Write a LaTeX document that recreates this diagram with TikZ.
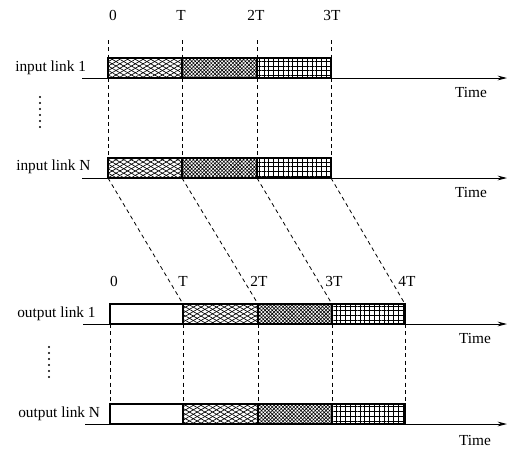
\documentclass[tikz,border=0pt]{standalone}
\usepackage{fontspec}
\setmainfont{Liberation Serif}
\usetikzlibrary{patterns.meta, arrows.meta}

\begin{document}
\begin{tikzpicture}[x=0.75pt, y=-0.75pt,
  lbl/.style={font=\fontsize{11.5}{13}\selectfont, inner sep=0pt},
  axis/.style={-{Stealth[length=7pt,width=3.5pt]}, line width=0.7pt},
  guide/.style={dash pattern=on 3pt off 2.5pt, line width=0.6pt},
  slot/.style={draw, line width=1pt},
  meshfill/.style={slot,
    preaction={pattern={Lines[angle=30,distance=2.9pt,line width=0.5pt]}},
    preaction={pattern={Lines[angle=-30,distance=2.9pt,line width=0.5pt]}}},
  finefill/.style={slot, preaction={pattern={Hatch[angle=45,distance=1.9pt,line width=0.45pt]}}},
  gridfill/.style={slot, preaction={pattern={Hatch[angle=0,distance=3.6pt,line width=0.5pt]}}}
]
  \useasboundingbox (0,0) rectangle (508,450);

  % Time marks on the input links
  \foreach \x [count=\k from 0] in {108,182,257,331} {
    \coordinate (g\k) at (\x,40);
    \coordinate (a\k t) at (\x,58);
    \coordinate (a\k) at (\x,78);
    \coordinate (b\k t) at (\x,158);
    \coordinate (b\k) at (\x,178);
  }
  % Time marks on the output links
  \foreach \x [count=\k from 0] in {110,183,258,332,405} {
    \coordinate (c\k t) at (\x,304);
    \coordinate (c\k) at (\x,324);
    \coordinate (d\k t) at (\x,404);
    \coordinate (d\k) at (\x,424);
  }

  % Axis ends
  \coordinate (a-start) at (82,78);   \coordinate (a-end) at (507,78);
  \coordinate (b-start) at (82,178);  \coordinate (b-end) at (507,178);
  \coordinate (c-start) at (83,324);  \coordinate (c-end) at (507,324);
  \coordinate (d-start) at (85,424);  \coordinate (d-end) at (507,424);

  % Time labels
  \node[lbl] (in0) at (113,15) {0};
  \node[lbl] (in1) at (181,15) {T};
  \node[lbl] (in2) at (256,15) {2T};
  \node[lbl] (in3) at (332,15) {3T};
  \node[lbl] (out0) at (114,281) {0};
  \node[lbl] (out1) at (183,281) {T};
  \node[lbl] (out2) at (259,281) {2T};
  \node[lbl] (out3) at (334,281) {3T};
  \node[lbl] (out4) at (407,281) {4T};

  % Link names
  \node[lbl, anchor=west] (inlink1) at (15,68) {input link 1};
  \node[lbl, anchor=west] (inlinkN) at (16,167) {input link N};
  \node[lbl, anchor=west] (outlink1) at (17,314) {output link 1};
  \node[lbl, anchor=west] (outlinkN) at (18,414) {output link N};
  \node[lbl] (time1) at (471,92) {Time};
  \node[lbl] (time2) at (471,192) {Time};
  \node[lbl] (time3) at (475,338) {Time};
  \node[lbl] (time4) at (475,440) {Time};

  % Cells on the input links
  \foreach \r in {a,b} {
    \draw[meshfill] (\r0) rectangle (\r1t);
    \draw[finefill] (\r1) rectangle (\r2t);
    \draw[gridfill] (\r2) rectangle (\r3t);
  }
  % Cells on the output links
  \foreach \r in {c,d} {
    \draw[slot] (\r0) rectangle (\r1t);
    \draw[meshfill] (\r1) rectangle (\r2t);
    \draw[finefill] (\r2) rectangle (\r3t);
    \draw[gridfill] (\r3) rectangle (\r4t);
  }

  % Time axes
  \foreach \r in {a,b,c,d}
    \draw[axis] (\r-start) -- (\r-end);

  % Dashed guides
  \foreach \k in {0,...,3} {
    \draw[guide] (g\k) -- (a\k t);
    \draw[guide] (a\k) -- (b\k t);
  }
  \foreach \k [evaluate=\k as \j using int(\k+1)] in {0,...,3}
    \draw[guide] (b\k) -- (c\j t);
  \foreach \k in {0,...,4}
    \draw[guide] (c\k) -- (d\k t);

  % Vertical dots
  \foreach \y in {97,103,...,127}
    \fill (40,\y) circle (0.9pt);
  \foreach \y in {347,353,...,377}
    \fill (49,\y) circle (0.9pt);
\end{tikzpicture}
\end{document}
